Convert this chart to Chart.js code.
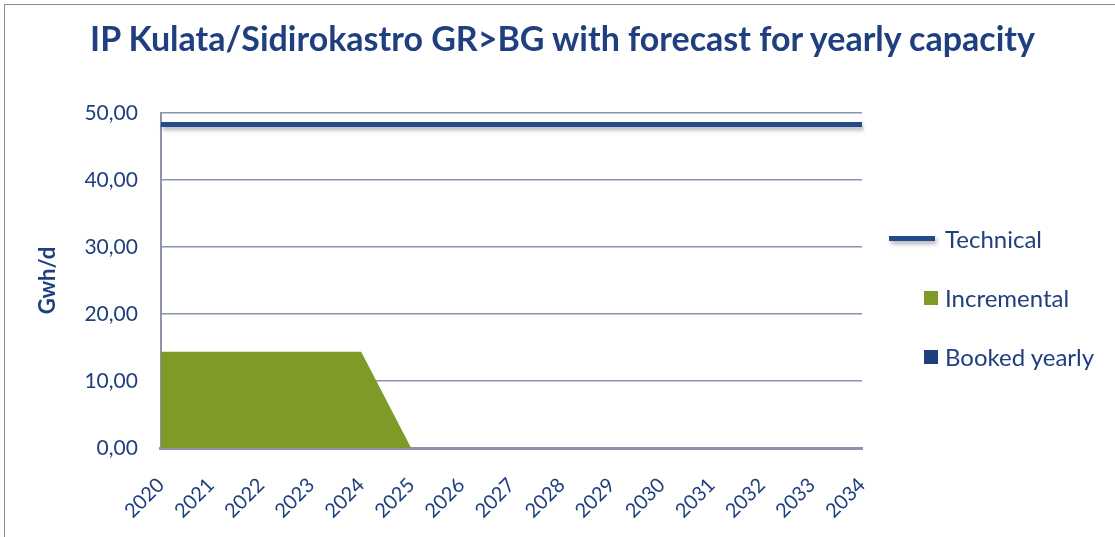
<!DOCTYPE html>
<html>
<head>
<meta charset="utf-8">
<script src="https://cdn.jsdelivr.net/npm/chart.js@4.4.1/dist/chart.umd.min.js"></script>
<style>
  body { margin: 0; background: #fff; }
  #wrap { position: relative; width: 1115px; height: 537px; overflow: hidden; }
  #frame { position: absolute; left: 4px; top: 4px; width: 1130px; height: 580px; border: 1.5px solid #8e8e8e; }
  #c { position: absolute; left: 0; top: 0; }
  #title { position: absolute; left: 0; width: 1125px; top: 18px; line-height: 40px; text-align: center;
    font-family: Lato, sans-serif; font-weight: bold; font-size: 34px; color: #1f3f7f; }
  #legend { position: absolute; left: 889px; top: 224px; font-family: Lato, sans-serif; font-size: 24px; color: #1f3f7f; }
  .item { display: flex; align-items: center; height: 29px; margin-bottom: 30px; }
  .sw { width: 46px; margin-right: 10px; display: flex; justify-content: flex-end; }
  .line { width: 46px; height: 5px; box-shadow: 2px 3px 4px rgba(0,0,0,0.3); }
  .box { width: 14px; height: 14px; margin-right: -3px; }
</style>
</head>
<body>
<div id="wrap">
  <div id="frame"></div>
  <canvas id="c" width="1115" height="560"></canvas>
  <div id="title">IP Kulata/Sidirokastro GR&gt;BG with forecast for yearly capacity</div>
  <div id="legend"></div>
</div>
<script>
// données
const years = ["2020", "2021", "2022", "2023", "2024", "2025", "2026", "2027",
  "2028", "2029", "2030", "2031", "2032", "2033", "2034"];
const technical = [48.3, 48.3, 48.3, 48.3, 48.3, 48.3, 48.3, 48.3,
  48.3, 48.3, 48.3, 48.3, 48.3, 48.3, 48.3];
const incremental = [14.4, 14.4, 14.4, 14.4, 14.4, 0, 0, 0, 0, 0, 0, 0, 0, 0, 0];
const bookedYearly = [0, 0, 0, 0, 0, 0, 0, 0, 0, 0, 0, 0, 0, 0, 0];
const yTicks = [0, 10, 20, 30, 40, 50];

const blue = "#1f3f7f";
const lineBlue = "#234a8b";
const green = "#7f9a27";
const grid = "#8b93ad";

// ombre sous la ligne "Technical"
const shadowPlugin = {
  id: "lineShadow",
  beforeDatasetDraw(chart, args) {
    if (args.index !== 0) return;
    const ctx = chart.ctx;
    ctx.save();
    ctx.shadowColor = "rgba(0,0,0,0.3)";
    ctx.shadowBlur = 4;
    ctx.shadowOffsetX = 2;
    ctx.shadowOffsetY = 3;
  },
  afterDatasetDraw(chart, args) {
    if (args.index !== 0) return;
    chart.ctx.restore();
  }
};

const chart = new Chart(document.getElementById("c"), {
  type: "line",
  data: {
    labels: years,
    datasets: [
      {
        label: "Technical",
        data: technical,
        borderColor: lineBlue,
        borderWidth: 5,
        pointRadius: 0,
        fill: false,
        order: 0,
        stack: "tech"
      },
      {
        label: "Incremental",
        data: incremental,
        borderWidth: 0,
        borderColor: green,
        backgroundColor: green,
        pointRadius: 0,
        fill: "origin",
        order: 2,
        stack: "cap"
      },
      {
        label: "Booked yearly",
        data: bookedYearly,
        borderWidth: 0,
        borderColor: blue,
        backgroundColor: blue,
        pointRadius: 0,
        fill: "origin",
        order: 1,
        stack: "cap"
      }
    ]
  },
  options: {
    responsive: false,
    animation: false,
    layout: { padding: { left: 31, right: 253, top: 113, bottom: 12 } },
    plugins: {
      legend: { display: false },
      tooltip: { enabled: false }
    },
    scales: {
      x: {
        offset: false,
        grid: { display: false, drawTicks: false },
        border: { color: grid, width: 3 },
        ticks: {
          color: blue,
          font: { family: "Lato", size: 20 },
          minRotation: 45,
          maxRotation: 45,
          padding: 25
        }
      },
      y: {
        min: yTicks[0],
        max: yTicks[yTicks.length - 1],
        afterBuildTicks: (axis) => { axis.ticks = yTicks.map(v => ({ value: v })); },
        grid: { color: grid, lineWidth: 1.5, drawTicks: false },
        border: { color: grid, width: 2 },
        ticks: {
          color: blue,
          font: { family: "Lato", size: 21 },
          padding: 23,
          callback: (v) => v.toFixed(2).replace(".", ",")
        },
        title: {
          display: true,
          text: "Gwh/d",
          color: blue,
          font: { family: "Lato", size: 22, weight: "bold" },
          padding: { top: 4, bottom: 0 }
        }
      }
    }
  },
  plugins: [shadowPlugin]
});

// légende HTML à droite
const legend = document.getElementById("legend");
chart.data.datasets.forEach((ds, i) => {
  const item = document.createElement("div");
  item.className = "item";
  const sw = document.createElement("span");
  sw.className = "sw";
  const mark = document.createElement("span");
  mark.className = i === 0 ? "line" : "box";
  mark.style.background = i === 0 ? ds.borderColor : ds.backgroundColor;
  sw.appendChild(mark);
  const txt = document.createElement("span");
  txt.textContent = ds.label;
  item.appendChild(sw);
  item.appendChild(txt);
  legend.appendChild(item);
});
</script>
</body>
</html>
